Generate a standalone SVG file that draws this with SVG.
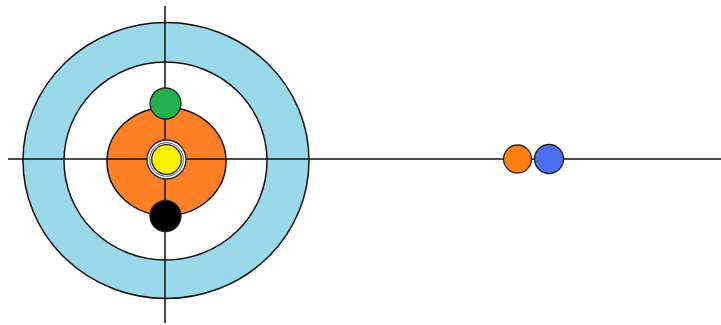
<svg xmlns="http://www.w3.org/2000/svg" width="721" height="325" viewBox="0 0 721 325">
  <style>
    .ring { stroke: #111; stroke-width: 1.5; }
    .line { stroke: #111; stroke-width: 1.5; fill: none; }
    .stone { stroke: #222; stroke-width: 1.3; }
  </style>
  <rect width="721" height="325" fill="#ffffff"/>
  <g id="house">
    <ellipse class="ring" cx="166" cy="160.5" rx="143" ry="138" fill="#99D9EA"/>
    <ellipse class="ring" cx="165.5" cy="161" rx="101.5" ry="99" fill="#ffffff"/>
    <ellipse class="ring" cx="166.5" cy="161.5" rx="59.5" ry="54" fill="#FF7F27"/>
  </g>
  <g id="lines">
    <line class="line" x1="165" y1="6" x2="165" y2="323"/>
    <line class="line" x1="8" y1="159" x2="721" y2="159"/>
  </g>
  <g id="button">
    <circle cx="166.5" cy="159.5" r="19.5" fill="#ffffff" stroke="#222" stroke-width="1.3"/>
    <circle cx="166.5" cy="159.5" r="16.8" fill="none" stroke="#555" stroke-width="1"/>
    <circle cx="166.5" cy="159.5" r="14.8" fill="#FFF200" stroke="#222" stroke-width="1.3"/>
  </g>
  <g id="green-stone">
    <circle class="stone" cx="165.5" cy="103.5" r="15.5" fill="#22B14C"/>
  </g>
  <g id="black-stone">
    <circle class="stone" cx="165.5" cy="216" r="15.5" fill="#000000"/>
  </g>
  <g id="orange-stone">
    <circle class="stone" cx="517.5" cy="159" r="14" fill="#FF7F0E"/>
  </g>
  <g id="blue-stone">
    <circle class="stone" cx="549" cy="159" r="14.5" fill="#4B6EF0"/>
  </g>
</svg>
